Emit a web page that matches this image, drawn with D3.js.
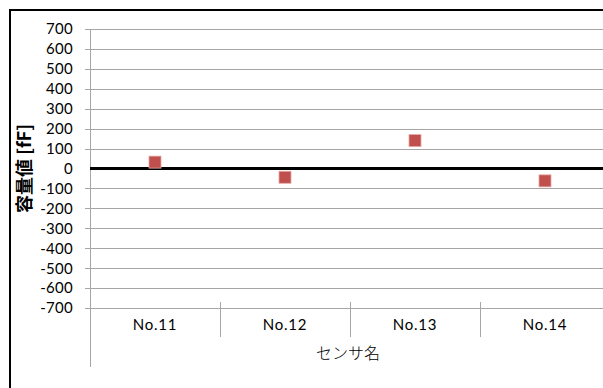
<!DOCTYPE html>
<html>
<head>
<meta charset="utf-8">
<script src="https://cdn.jsdelivr.net/npm/d3@7"></script>
<style>
  body { margin: 0; background: #fff; }
  svg { display: block; }
</style>
</head>
<body>
<svg id="chart"></svg>
<script>
// データ
const sensors = ["No.11", "No.12", "No.13", "No.14"];
const capValues = [32, -44, 140, -62];
const yTicks = [700, 600, 500, 400, 300, 200, 100, 0, -100, -200, -300, -400, -500, -600, -700];

const W = 603, H = 388;
const svg = d3.select("#chart").attr("width", W).attr("height", H);

// 外枠
svg.append("rect")
  .attr("x", 10).attr("y", 10)
  .attr("width", 700).attr("height", 500)
  .attr("fill", "#fff")
  .attr("stroke", "#000")
  .attr("stroke-width", 2);

const plot = { left: 90, right: 610, top: 29, bottom: 308 };

const x = d3.scaleBand()
  .domain(sensors)
  .range([plot.left, plot.right]);

const y = d3.scaleLinear()
  .domain([-700, 700])
  .range([plot.bottom, plot.top]);

// 目盛線
svg.append("g")
  .selectAll("line")
  .data(yTicks.filter(d => d !== 0))
  .enter()
  .append("line")
  .attr("x1", plot.left - 5)
  .attr("x2", W)
  .attr("y1", d => Math.round(y(d)) + 0.5)
  .attr("y2", d => Math.round(y(d)) + 0.5)
  .attr("stroke", "#a6a6a6")
  .attr("stroke-width", 1);

// y軸ラベル
svg.append("g")
  .selectAll("text")
  .data(yTicks)
  .enter()
  .append("text")
  .attr("x", plot.left - 17)
  .attr("y", d => y(d))
  .attr("dy", "0.36em")
  .attr("text-anchor", "end")
  .style("font-family", "Lato, 'Open Sans', sans-serif")
  .style("font-size", "15px")
  .style("letter-spacing", "0.3px")
  .style("fill", "#000")
  .text(d => d);

// y軸線
svg.append("line")
  .attr("x1", plot.left + 0.5).attr("x2", plot.left + 0.5)
  .attr("y1", plot.top).attr("y2", 367)
  .attr("stroke", "#a6a6a6");

// カテゴリ区切り線
svg.append("g")
  .selectAll("line")
  .data(sensors.slice(1))
  .enter()
  .append("line")
  .attr("x1", d => Math.round(x(d)) + 0.5)
  .attr("x2", d => Math.round(x(d)) + 0.5)
  .attr("y1", 302)
  .attr("y2", 337)
  .attr("stroke", "#a6a6a6");

// カテゴリラベル
svg.append("g")
  .selectAll("text")
  .data(sensors)
  .enter()
  .append("text")
  .attr("x", d => x(d) + x.bandwidth() / 2)
  .attr("y", 330)
  .attr("text-anchor", "middle")
  .style("font-family", "Lato, 'Open Sans', sans-serif")
  .style("font-size", "15px")
  .style("letter-spacing", "0.8px")
  .text(d => d);

// x軸タイトル
svg.append("text")
  .attr("x", 348)
  .attr("y", 359)
  .attr("text-anchor", "middle")
  .style("font-family", "'Noto Sans CJK JP', sans-serif")
  .style("font-size", "16px")
  .style("font-weight", "300")
  .text("センサ名");

// y軸タイトル
svg.append("text")
  .attr("transform", `translate(31,${y(0)}) rotate(-90)`)
  .attr("text-anchor", "middle")
  .style("font-family", "'Noto Sans CJK JP', sans-serif")
  .style("font-size", "18px")
  .style("font-weight", "bold")
  .text("容量値 [fF]");

// ゼロ線
svg.append("line")
  .attr("x1", plot.left).attr("x2", W)
  .attr("y1", y(0)).attr("y2", y(0))
  .attr("stroke", "#000")
  .attr("stroke-width", 3);

// マーカー
const size = 12;
svg.append("g")
  .selectAll("rect")
  .data(sensors.map((s, i) => ({ s, v: capValues[i] })))
  .enter()
  .append("rect")
  .attr("x", d => x(d.s) + x.bandwidth() / 2 - size / 2)
  .attr("y", d => y(d.v) - size / 2)
  .attr("width", size)
  .attr("height", size)
  .attr("fill", "#c0504d")
  .attr("stroke", "#e6a9a7")
  .attr("stroke-width", 0.8);
</script>
</body>
</html>
